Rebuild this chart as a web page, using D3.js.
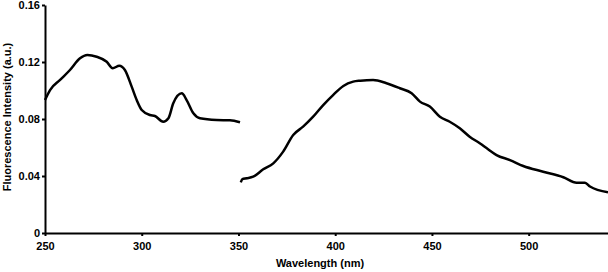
<!DOCTYPE html>
<html>
<head>
<meta charset="utf-8">
<script src="https://cdn.jsdelivr.net/npm/d3@7"></script>
<style>
    body { margin: 0; background: #fff; }
    #chart { width: 608px; height: 272px; }
    .axis text { font-family: "Liberation Sans", Arial, sans-serif; font-weight: bold; font-size: 11px; fill: #000; }
    .axis path, .axis line { stroke: #000; stroke-width: 2px; }
    .label { font-family: "Liberation Sans", Arial, sans-serif; font-weight: bold; font-size: 11px; fill: #000; }
</style>
</head>
<body>
<div id="chart"></div>
<script>
// excitation scan (left curve)
const excWavelength = [250, 252.6, 257.8, 262.9, 268.1, 271.9, 276.7, 281.9, 285, 288.4, 291.3, 294.8, 297.4, 300,
    304.3, 306.8, 311.1, 313.8, 316.3, 320.7, 323.2, 326.7, 330.1, 338.7, 345.6, 350.8];
const excIntensity = [0.0933, 0.1003, 0.1074, 0.1144, 0.1226, 0.1249, 0.1237, 0.1202, 0.1156, 0.1174, 0.1144, 0.1027, 0.0933, 0.0863,
    0.0828, 0.0821, 0.0781, 0.0805, 0.0910, 0.0980, 0.0933, 0.0840, 0.0805, 0.0793, 0.0791, 0.0777];

// emission scan (right curve)
const emWavelength = [351.2, 352, 354.2, 357.6, 362.8, 368, 373.1, 378.3, 383.4, 388.6, 393.8, 398.9, 404.2, 409.3,
    413, 419.6, 426.5, 433.4, 439.5, 443.8, 448.9, 454.1, 459.2, 464.4, 469.5, 474.7, 479, 483.4, 490.3, 497.2,
    507.5, 517.9, 524.8, 529.1, 531.7, 541];
const emIntensity = [0.0355, 0.0378, 0.0384, 0.0395, 0.0447, 0.0489, 0.0571, 0.0688, 0.0746, 0.0816, 0.0898, 0.0968, 0.1032, 0.1062,
    0.1069, 0.1074, 0.1051, 0.1016, 0.0981, 0.0922, 0.0887, 0.0816, 0.0781, 0.0735, 0.0676, 0.0630, 0.0588, 0.0547, 0.0512, 0.0470,
    0.0430, 0.0391, 0.0353, 0.0353, 0.0326, 0.0286];

const xTicks = [250, 300, 350, 400, 450, 500];
const yTicks = [0, 0.04, 0.08, 0.12, 0.16];

const width = 608, height = 272;
const margin = { top: 5, right: 0, bottom: 39, left: 45 };

const svg = d3.select('#chart')
    .append('svg')
    .attr('width', width)
    .attr('height', height);

const x = d3.scaleLinear()
    .domain([250, 541])
    .range([margin.left, width - margin.right]);

const y = d3.scaleLinear()
    .domain([0, 0.16])
    .range([height - margin.bottom, margin.top]);

const line = d3.line()
    .x(d => x(d[0]))
    .y(d => y(d[1]))
    .curve(d3.curveMonotoneX);

const series = [
    d3.zip(excWavelength, excIntensity),
    d3.zip(emWavelength, emIntensity)
];

svg.selectAll('path.curve')
    .data(series)
    .enter()
    .append('path')
    .attr('class', 'curve')
    .attr('d', line)
    .attr('fill', 'none')
    .attr('stroke', '#000')
    .attr('stroke-width', 2.5)
    .attr('stroke-linejoin', 'round');

svg.append('g')
    .attr('class', 'x axis')
    .attr('transform', `translate(0,${height - margin.bottom})`)
    .call(d3.axisBottom(x).tickValues(xTicks).tickSize(3).tickSizeOuter(0).tickPadding(6));

svg.append('g')
    .attr('class', 'y axis')
    .attr('transform', `translate(${margin.left},0)`)
    .call(d3.axisLeft(y).tickValues(yTicks).tickSize(3).tickSizeOuter(0).tickPadding(2)
        .tickFormat(d => d === 0 ? '0' : d3.format('.2f')(d)));

svg.append('text')
    .attr('class', 'label')
    .attr('x', 320)
    .attr('y', 267)
    .attr('text-anchor', 'middle')
    .text('Wavelength (nm)');

svg.append('text')
    .attr('class', 'label')
    .attr('transform', 'translate(11,117) rotate(-90)')
    .attr('text-anchor', 'middle')
    .text('Fluorescence Intensity (a.u.)');
</script>
</body>
</html>
